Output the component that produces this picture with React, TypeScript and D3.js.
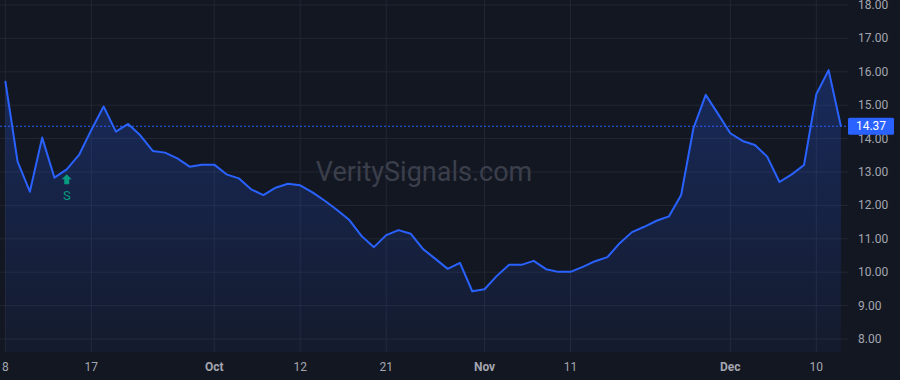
import React from "react";
import * as d3 from "d3";

const values: number[] = [
  15.73, 13.31, 12.41, 14.03, 12.83, 13.08, 13.51, 14.26, 14.96, 14.21,
  14.44, 14.09, 13.63, 13.58, 13.41, 13.16, 13.22, 13.22, 12.93, 12.81,
  12.48, 12.31, 12.53, 12.65, 12.6, 12.39, 12.14, 11.86, 11.56, 11.08,
  10.75, 11.11, 11.26, 11.15, 10.69, 10.4, 10.1, 10.28, 9.43, 9.49,
  9.89, 10.22, 10.22, 10.34, 10.09, 10.01, 10.01, 10.16, 10.33, 10.45,
  10.87, 11.2, 11.36, 11.54, 11.67, 12.31, 14.31, 15.31, 14.74, 14.16,
  13.93, 13.81, 13.46, 12.7, 12.93, 13.21, 15.33, 16.05, 14.37,
];

const xTickIndex: number[] = [0, 7, 17, 24, 31, 39, 46, 59, 66];
const xTickLabels: string[] = ["8", "17", "Oct", "12", "21", "Nov", "11", "Dec", "10"];
const xTickMonth: boolean[] = [false, false, true, false, false, true, false, true, false];

const yTicks: number[] = [8, 9, 10, 11, 12, 13, 14, 15, 16, 17, 18];
const lastPrice = 14.37;
const signalIndex = 5;
const signalLabel = "S";
const watermark = "VeritySignals.com";

const W = 900;
const H = 380;
const plotRight = 848;
const plotBottom = 352;

export default function App() {
  const x = d3.scaleLinear().domain([0, values.length - 1]).range([5.3, 840.9]);
  const y = d3.scaleLinear().domain([8, 18]).range([339, 5]);

  const line = d3
    .line<number>()
    .x((_, i) => x(i))
    .y((d) => y(d));
  const area = d3
    .area<number>()
    .x((_, i) => x(i))
    .y0(plotBottom)
    .y1((d) => y(d));

  const font = "Roboto, 'Liberation Sans', Arial, sans-serif";
  const textColor = "#a3a6af";
  const gridColor = "#232733";
  const blue = "#2962ff";
  const teal = "#089981";

  const sx = x(signalIndex);
  const sy = y(values[signalIndex]);

  return (
    <svg
      width={W}
      height={H}
      style={{ position: "fixed", left: 0, top: 0, display: "block" }}
      fontFamily={font}
    >
      <defs>
        <linearGradient id="areaGrad" gradientUnits="userSpaceOnUse" x1="0" y1="70" x2="0" y2={plotBottom}>
          <stop offset="0" stopColor={blue} stopOpacity={0.26} />
          <stop offset="1" stopColor={blue} stopOpacity={0.05} />
        </linearGradient>
      </defs>
      <rect x={0} y={0} width={W} height={H} fill="#131722" />

      {/* horizontal grid */}
      {yTicks.map((t) => (
        <line key={"h" + t} x1={0} x2={plotRight} y1={y(t)} y2={y(t)} stroke={gridColor} strokeWidth={1} />
      ))}
      {/* vertical grid */}
      {xTickIndex.map((idx) => (
        <line key={"v" + idx} x1={x(idx)} x2={x(idx)} y1={0} y2={plotBottom} stroke={gridColor} strokeWidth={1} />
      ))}

      {/* watermark */}
      <text
        x={424}
        y={172}
        textAnchor="middle"
        dominantBaseline="central"
        fontSize={27}
        fill="#3b3f4b"
      >
        {watermark}
      </text>

      <path d={area(values) || ""} fill="url(#areaGrad)" />
      <path d={line(values) || ""} fill="none" stroke={blue} strokeWidth={2} strokeLinejoin="round" />

      {/* last price line */}
      <line
        x1={0}
        x2={plotRight}
        y1={y(lastPrice)}
        y2={y(lastPrice)}
        stroke={blue}
        strokeWidth={1}
        strokeDasharray="2,2"
      />

      {/* signal marker */}
      <path
        d={`M${sx},${sy + 5} L${sx + 5},${sy + 10} L${sx + 2.5},${sy + 10} L${sx + 2.5},${sy + 15} L${sx - 2.5},${sy + 15} L${sx - 2.5},${sy + 10} L${sx - 5},${sy + 10} Z`}
        fill={teal}
      />
      <text x={sx} y={sy + 26} textAnchor="middle" dominantBaseline="central" fontSize={13} fill={teal}>
        {signalLabel}
      </text>

      {/* y axis labels */}
      {yTicks.map((t) => (
        <text key={"yl" + t} x={858} y={y(t)} dominantBaseline="central" fontSize={12} fill={textColor}>
          {t.toFixed(2)}
        </text>
      ))}

      {/* last price label */}
      <rect x={848} y={y(lastPrice) - 8.5} width={46} height={17} rx={1.5} fill={blue} />
      <text x={871} y={y(lastPrice)} textAnchor="middle" dominantBaseline="central" fontSize={12} fill="#ffffff">
        {lastPrice.toFixed(2)}
      </text>

      {/* x axis labels */}
      {xTickIndex.map((idx, k) => (
        <text
          key={"xl" + idx}
          x={x(idx)}
          y={367}
          textAnchor="middle"
          dominantBaseline="central"
          fontSize={12}
          fontWeight={xTickMonth[k] ? 700 : 400}
          fill={textColor}
        >
          {xTickLabels[k]}
        </text>
      ))}
    </svg>
  );
}
